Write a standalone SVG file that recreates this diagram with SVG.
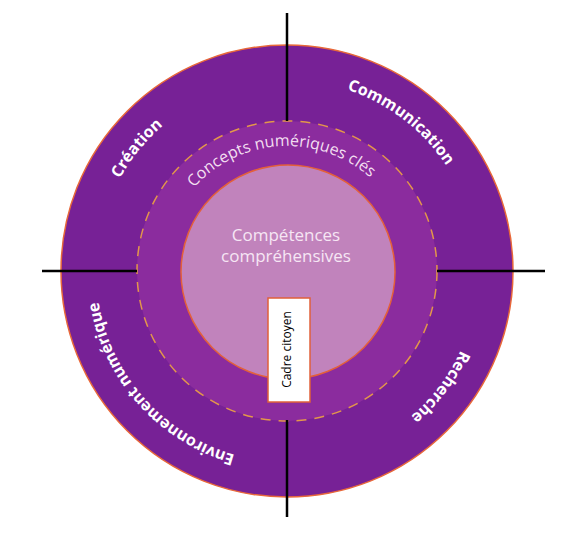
<svg xmlns="http://www.w3.org/2000/svg" xmlns:xlink="http://www.w3.org/1999/xlink" width="568" height="534" viewBox="0 0 568 534">
  <style>
    .lbl { font-family: "Open Sans", "Noto Sans", "DejaVu Sans", sans-serif; font-weight: 700; font-size: 16px; fill: #ffffff; }
    .mid { font-family: "Open Sans", "Noto Sans", "DejaVu Sans", sans-serif; font-size: 16px; fill: #f3dff1; }
    .core { font-family: "Open Sans", "Noto Sans", "DejaVu Sans", sans-serif; font-size: 17px; fill: #f6e6f4; }
    .cadre { font-family: "Open Sans", "Noto Sans", "DejaVu Sans", sans-serif; font-size: 12px; fill: #000000; }
    .axis { stroke: #000000; stroke-width: 2.5; fill: none; }
  </style>
  <defs>
    <path id="outerArc" d="M 287 80 A 191 191 0 1 1 287 462 A 191 191 0 1 1 287 80"/>
    <path id="midArc" d="M 287 396 A 125 125 0 1 1 287 146 A 125 125 0 1 1 287 396"/>
  </defs>
  <rect width="568" height="534" fill="#ffffff"/>

  <g id="ring-outer">
    <circle cx="287" cy="271" r="226" fill="#772196" stroke="#e8683a" stroke-width="1.5"/>
  </g>
  <g id="ring-middle">
    <circle cx="287" cy="271" r="150" fill="#8b2c9e"/>
    <circle cx="287" cy="271" r="150" fill="none" stroke="#e3974a" stroke-width="1.5" stroke-dasharray="10 8"/>
    <text class="mid"><textPath xlink:href="#midArc" href="#midArc" startOffset="49.1%" text-anchor="middle">Concepts numériques clés</textPath></text>
  </g>
  <g id="core">
    <circle cx="288" cy="272" r="107" fill="#c183bc" stroke="#e4603a" stroke-width="1.5"/>
    <text class="core" x="286" y="241" text-anchor="middle">Compétences</text>
    <text class="core" x="286" y="262" text-anchor="middle">compréhensives</text>
  </g>
  <g id="cadre">
    <rect x="268" y="298" width="42" height="104" fill="#ffffff" stroke="#e0603a" stroke-width="1.5"/>
    <text class="cadre" transform="translate(291 349.5) rotate(-90)" text-anchor="middle">Cadre citoyen</text>
  </g>

  <g id="connectors">
    <line class="axis" x1="287" y1="13" x2="287" y2="121"/>
    <line class="axis" x1="287" y1="420" x2="287" y2="517"/>
    <line class="axis" x1="42" y1="271" x2="137" y2="271"/>
    <line class="axis" x1="437" y1="271" x2="545" y2="271"/>
  </g>

  <g id="label-creation">
    <text class="lbl"><textPath xlink:href="#outerArc" href="#outerArc" startOffset="85.9%" text-anchor="middle">Création</textPath></text>
  </g>
  <g id="label-communication">
    <text class="lbl"><textPath xlink:href="#outerArc" href="#outerArc" startOffset="10.4%" text-anchor="middle">Communication</textPath></text>
  </g>
  <g id="label-recherche">
    <text class="lbl"><textPath xlink:href="#outerArc" href="#outerArc" startOffset="35.3%" text-anchor="middle">Recherche</textPath></text>
  </g>
  <g id="label-environnement">
    <text class="lbl"><textPath xlink:href="#outerArc" href="#outerArc" startOffset="63.4%" text-anchor="middle">Environnement numérique</textPath></text>
  </g>
</svg>
